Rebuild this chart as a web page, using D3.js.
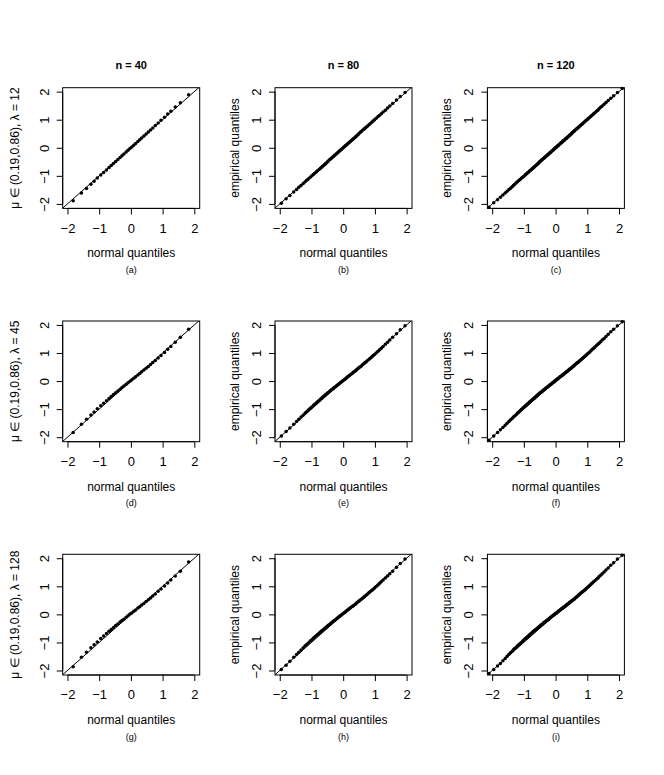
<!DOCTYPE html>
<html>
<head>
<meta charset="utf-8">
<script src="https://cdn.jsdelivr.net/npm/d3@7"></script>
<style>
  html, body { margin: 0; padding: 0; background: #fff; }
  text { font-family: "Liberation Sans", Arial, Helvetica, sans-serif; fill: #000; }
</style>
</head>
<body>
<svg id="chart" width="664" height="775"></svg>
<script>
// ---------- data ----------
const sampleSizes = ["n = 40", "n = 80", "n = 120"];
const lambdas = ["12", "45", "128"];
const panelLetters = ["(a)", "(b)", "(c)", "(d)", "(e)", "(f)", "(g)", "(h)", "(i)"];
const tickValues = [-2, -1, 0, 1, 2];
const xLabel = "normal quantiles";
const yLabel = "empirical quantiles";

// normal quantiles (x) for each sample size
const x40 = [-1.82,-1.56,-1.40,-1.26,-1.16,-1.06,-0.95,-0.86,-0.77,-0.69,-0.62,-0.55,-0.48,-0.41,-0.34,-0.28,-0.22,-0.15,-0.09,-0.03,
  0.03,0.09,0.15,0.22,0.28,0.34,0.41,0.48,0.55,0.62,0.69,0.77,0.86,0.95,1.06,1.16,1.26,1.40,1.56,1.82];
const x80 = [-1.95,-1.80,-1.68,-1.56,-1.47,-1.40,-1.33,-1.26,-1.20,-1.15,-1.10,-1.04,-0.99,-0.94,-0.90,-0.85,-0.81,-0.76,-0.72,-0.68,
  -0.65,-0.61,-0.57,-0.54,-0.50,-0.47,-0.43,-0.40,-0.37,-0.33,-0.30,-0.27,-0.23,-0.20,-0.17,-0.14,-0.11,-0.08,-0.05,-0.02,
  0.02,0.05,0.08,0.11,0.14,0.17,0.20,0.23,0.27,0.30,0.33,0.37,0.40,0.43,0.47,0.50,0.54,0.57,0.61,0.65,
  0.68,0.72,0.76,0.81,0.85,0.90,0.94,0.99,1.04,1.10,1.15,1.20,1.26,1.33,1.40,1.47,1.56,1.68,1.80,1.95];
const x120 = [-2.10,-1.95,-1.83,-1.74,-1.66,-1.59,-1.53,-1.47,-1.42,-1.37,-1.33,-1.29,-1.24,-1.20,-1.16,-1.12,-1.08,-1.04,-1.01,-0.97,
  -0.94,-0.91,-0.88,-0.85,-0.82,-0.79,-0.76,-0.73,-0.71,-0.68,-0.66,-0.63,-0.60,-0.58,-0.56,-0.53,-0.51,-0.49,-0.46,-0.44,
  -0.42,-0.39,-0.37,-0.35,-0.33,-0.31,-0.28,-0.26,-0.24,-0.22,-0.20,-0.18,-0.16,-0.14,-0.11,-0.09,-0.07,-0.05,-0.03,-0.01,
  0.01,0.03,0.05,0.07,0.09,0.11,0.14,0.16,0.18,0.20,0.22,0.24,0.26,0.28,0.31,0.33,0.35,0.37,0.39,0.42,
  0.44,0.46,0.49,0.51,0.53,0.56,0.58,0.60,0.63,0.66,0.68,0.71,0.73,0.76,0.79,0.82,0.85,0.88,0.91,0.94,
  0.97,1.01,1.04,1.08,1.12,1.16,1.20,1.24,1.29,1.33,1.37,1.42,1.47,1.53,1.59,1.66,1.74,1.83,1.95,2.10];

// empirical quantiles (y) for each panel
const yA = [-1.89,-1.61,-1.45,-1.30,-1.19,-1.08,-0.97,-0.88,-0.79,-0.70,-0.63,-0.56,-0.49,-0.42,-0.35,-0.28,-0.22,-0.15,-0.09,-0.03,
  0.03,0.09,0.15,0.22,0.29,0.35,0.42,0.49,0.56,0.63,0.70,0.79,0.88,0.98,1.09,1.20,1.30,1.45,1.60,1.89];
const yB = [-1.98,-1.82,-1.70,-1.58,-1.49,-1.41,-1.34,-1.27,-1.21,-1.16,-1.11,-1.05,-1.00,-0.95,-0.91,-0.86,-0.82,-0.77,-0.73,-0.69,
  -0.66,-0.62,-0.58,-0.55,-0.51,-0.47,-0.43,-0.40,-0.37,-0.33,-0.30,-0.27,-0.23,-0.20,-0.17,-0.14,-0.11,-0.08,-0.05,-0.02,
  0.02,0.05,0.08,0.11,0.14,0.17,0.20,0.23,0.27,0.30,0.33,0.37,0.40,0.43,0.47,0.51,0.55,0.58,0.62,0.66,
  0.69,0.73,0.77,0.82,0.86,0.91,0.95,1.00,1.05,1.11,1.16,1.21,1.27,1.34,1.42,1.49,1.58,1.70,1.83,1.97];
const yC = [-2.12,-1.96,-1.85,-1.76,-1.68,-1.61,-1.55,-1.49,-1.44,-1.39,-1.34,-1.30,-1.25,-1.21,-1.17,-1.13,-1.09,-1.05,-1.02,-0.98,
  -0.95,-0.92,-0.89,-0.86,-0.83,-0.80,-0.77,-0.74,-0.72,-0.69,-0.67,-0.64,-0.61,-0.59,-0.57,-0.54,-0.51,-0.49,-0.46,-0.44,
  -0.42,-0.39,-0.37,-0.35,-0.33,-0.31,-0.28,-0.26,-0.24,-0.22,-0.20,-0.18,-0.16,-0.14,-0.11,-0.09,-0.07,-0.05,-0.03,-0.01,
  0.01,0.03,0.05,0.07,0.09,0.11,0.14,0.16,0.18,0.20,0.22,0.24,0.26,0.28,0.31,0.33,0.35,0.37,0.39,0.42,
  0.44,0.46,0.49,0.51,0.54,0.57,0.59,0.61,0.64,0.67,0.69,0.72,0.74,0.77,0.80,0.83,0.86,0.89,0.92,0.95,
  0.98,1.02,1.05,1.09,1.13,1.17,1.21,1.25,1.30,1.34,1.39,1.44,1.49,1.55,1.61,1.68,1.76,1.85,1.97,2.11];
const yD = [-1.83,-1.54,-1.36,-1.21,-1.10,-0.99,-0.88,-0.79,-0.70,-0.62,-0.55,-0.48,-0.42,-0.35,-0.29,-0.23,-0.18,-0.11,-0.06,-0.01,
  0.05,0.10,0.15,0.22,0.27,0.33,0.39,0.46,0.52,0.59,0.66,0.73,0.82,0.91,1.02,1.13,1.23,1.38,1.56,1.85];
const yE = [-1.96,-1.80,-1.67,-1.54,-1.44,-1.36,-1.28,-1.21,-1.14,-1.09,-1.03,-0.97,-0.92,-0.87,-0.83,-0.78,-0.74,-0.69,-0.65,-0.61,
  -0.58,-0.54,-0.50,-0.47,-0.43,-0.41,-0.37,-0.34,-0.31,-0.28,-0.25,-0.22,-0.19,-0.16,-0.13,-0.11,-0.08,-0.05,-0.02,0.00,
  0.04,0.06,0.09,0.12,0.15,0.17,0.20,0.23,0.26,0.29,0.32,0.35,0.38,0.41,0.45,0.48,0.51,0.54,0.58,0.62,
  0.65,0.68,0.72,0.77,0.81,0.86,0.90,0.95,1.00,1.06,1.12,1.17,1.23,1.31,1.38,1.46,1.56,1.69,1.83,1.97];
const yF = [-2.11,-1.96,-1.83,-1.73,-1.65,-1.57,-1.50,-1.44,-1.38,-1.33,-1.28,-1.24,-1.19,-1.14,-1.10,-1.06,-1.01,-0.97,-0.94,-0.90,
  -0.87,-0.84,-0.81,-0.78,-0.75,-0.72,-0.69,-0.66,-0.64,-0.61,-0.59,-0.56,-0.53,-0.51,-0.49,-0.46,-0.44,-0.42,-0.40,-0.38,
  -0.36,-0.33,-0.31,-0.30,-0.28,-0.26,-0.23,-0.21,-0.20,-0.18,-0.16,-0.14,-0.12,-0.11,-0.08,-0.06,-0.04,-0.03,-0.01,0.01,
  0.03,0.05,0.07,0.08,0.10,0.12,0.15,0.16,0.18,0.20,0.22,0.23,0.25,0.27,0.30,0.32,0.33,0.35,0.37,0.40,
  0.42,0.44,0.46,0.48,0.50,0.53,0.55,0.57,0.60,0.63,0.65,0.67,0.69,0.72,0.75,0.78,0.81,0.84,0.87,0.90,
  0.93,0.97,1.00,1.04,1.09,1.13,1.17,1.21,1.27,1.31,1.35,1.40,1.46,1.52,1.59,1.67,1.76,1.85,1.97,2.11];
const yG = [-1.87,-1.53,-1.35,-1.19,-1.08,-0.98,-0.86,-0.77,-0.68,-0.60,-0.54,-0.47,-0.40,-0.34,-0.27,-0.22,-0.17,-0.10,-0.05,0.01,
  0.05,0.11,0.16,0.23,0.27,0.33,0.39,0.46,0.52,0.58,0.65,0.73,0.82,0.90,1.01,1.12,1.22,1.37,1.54,1.87];
const yH = [-1.96,-1.81,-1.67,-1.53,-1.43,-1.35,-1.27,-1.19,-1.12,-1.07,-1.02,-0.95,-0.90,-0.85,-0.81,-0.76,-0.72,-0.67,-0.63,-0.59,
  -0.57,-0.53,-0.49,-0.46,-0.42,-0.39,-0.36,-0.33,-0.30,-0.26,-0.24,-0.21,-0.18,-0.15,-0.12,-0.09,-0.07,-0.04,-0.01,0.01,
  0.05,0.07,0.10,0.13,0.16,0.18,0.21,0.24,0.27,0.29,0.32,0.35,0.38,0.41,0.45,0.48,0.51,0.54,0.57,0.61,
  0.64,0.68,0.72,0.77,0.81,0.85,0.89,0.94,0.99,1.05,1.11,1.16,1.22,1.30,1.37,1.45,1.54,1.68,1.81,1.97];
const yI = [-2.11,-1.96,-1.84,-1.75,-1.65,-1.57,-1.49,-1.42,-1.37,-1.31,-1.26,-1.22,-1.17,-1.12,-1.08,-1.04,-1.00,-0.96,-0.92,-0.88,
  -0.85,-0.82,-0.79,-0.76,-0.73,-0.70,-0.67,-0.64,-0.62,-0.59,-0.57,-0.55,-0.52,-0.50,-0.48,-0.45,-0.43,-0.41,-0.38,-0.37,
  -0.35,-0.32,-0.30,-0.28,-0.27,-0.25,-0.22,-0.21,-0.19,-0.17,-0.15,-0.13,-0.11,-0.09,-0.07,-0.05,-0.03,-0.01,0.00,0.02,
  0.04,0.05,0.07,0.09,0.11,0.13,0.15,0.17,0.19,0.21,0.22,0.24,0.26,0.27,0.30,0.32,0.34,0.36,0.37,0.40,
  0.42,0.44,0.46,0.48,0.50,0.52,0.54,0.56,0.59,0.62,0.64,0.67,0.69,0.72,0.75,0.78,0.81,0.83,0.86,0.89,
  0.92,0.96,0.99,1.03,1.08,1.12,1.16,1.20,1.25,1.29,1.34,1.39,1.45,1.51,1.58,1.65,1.75,1.84,1.97,2.11];

const xByCol = [x40, x80, x120];
const yByPanel = [[yA, yB, yC], [yD, yE, yF], [yG, yH, yI]];

// ---------- layout ----------
const colLeft = [62.7, 275, 487.4];
const rowTop = [87.7, 321, 554.3];
const pw = 137, ph = 120.7;
const xDomain = [-2.15, 2.17];
const yDomain = [-2.16, 2.14];

const svg = d3.select("#chart");
svg.append("rect").attr("width", 664).attr("height", 775).attr("fill", "#fff");

const fmt = d => d < 0 ? "\u2212" + Math.abs(d) : String(d);

for (let r = 0; r < 3; r++) {
  for (let c = 0; c < 3; c++) {
    const idx = r * 3 + c;
    const g = svg.append("g").attr("transform", `translate(${colLeft[c]},${rowTop[r]})`);
    const x = d3.scaleLinear().domain(xDomain).range([0, pw]);
    const y = d3.scaleLinear().domain(yDomain).range([ph, 0]);

    const clipId = "clip" + idx;
    g.append("clipPath").attr("id", clipId)
      .append("rect").attr("width", pw).attr("height", ph);

    // reference line y = x
    g.append("line")
      .attr("clip-path", `url(#${clipId})`)
      .attr("x1", x(-3)).attr("y1", y(-3))
      .attr("x2", x(3)).attr("y2", y(3))
      .attr("stroke", "#000").attr("stroke-width", 1);

    // points
    const xs = xByCol[c], ys = yByPanel[r][c];
    g.append("g").selectAll("circle")
      .data(xs.map((v, i) => [v, ys[i]]))
      .join("circle")
      .attr("cx", d => x(d[0]))
      .attr("cy", d => y(d[1]))
      .attr("r", 1.75)
      .attr("fill", "#000");

    // x axis
    const xa = g.append("g").attr("transform", `translate(0,${ph})`)
      .call(d3.axisBottom(x).tickValues(tickValues).tickSize(6).tickSizeOuter(0).tickFormat(fmt));
    xa.select(".domain").remove();
    xa.append("line").attr("x1", x(-2)).attr("x2", x(2)).attr("stroke", "#000");
    xa.selectAll(".tick line").attr("stroke", "#000");
    xa.selectAll(".tick text")
      .attr("y", 19.5).attr("dy", "0.36em")
      .style("font-size", "13px").attr("fill", "#000");

    // y axis
    const ya = g.append("g")
      .call(d3.axisLeft(y).tickValues(tickValues).tickSize(6).tickSizeOuter(0).tickFormat(fmt));
    ya.select(".domain").remove();
    ya.append("line").attr("y1", y(-2)).attr("y2", y(2)).attr("stroke", "#000");
    ya.selectAll(".tick line").attr("stroke", "#000");
    ya.selectAll(".tick text")
      .attr("x", null).attr("dy", null)
      .attr("text-anchor", "middle")
      .attr("dominant-baseline", "central")
      .attr("transform", "translate(-18.5,0) rotate(-90)")
      .style("font-size", "13px").attr("fill", "#000");

    // box
    g.append("rect").attr("width", pw).attr("height", ph)
      .attr("fill", "none").attr("stroke", "#000").attr("stroke-width", 1);

    // title (top row only)
    if (r === 0) {
      g.append("text").attr("x", pw / 2).attr("y", -22.7)
        .attr("text-anchor", "middle").attr("dominant-baseline", "central")
        .style("font-size", "11px").style("font-weight", "bold")
        .text(sampleSizes[c]);
    }

    // x label and panel letter
    g.append("text").attr("x", pw / 2).attr("y", ph + 45)
      .attr("text-anchor", "middle").attr("dominant-baseline", "central")
      .style("font-size", "12px").text(xLabel);
    g.append("text").attr("x", pw / 2).attr("y", ph + 61.7)
      .attr("text-anchor", "middle").attr("dominant-baseline", "central")
      .style("font-size", "9px").text(panelLetters[idx]);

    // y label
    if (c === 0) {
      g.append("text")
        .attr("transform", `translate(-47.7,${ph / 2}) rotate(-90)`)
        .attr("text-anchor", "middle").attr("dominant-baseline", "central")
        .style("font-size", "12px")
        .text(`\u03bc \u2208 (0.19,0.86), \u03bb = ${lambdas[r]}`);
    } else {
      g.append("text")
        .attr("transform", `translate(-40,${ph / 2}) rotate(-90)`)
        .attr("text-anchor", "middle").attr("dominant-baseline", "central")
        .style("font-size", "12px")
        .text(yLabel);
    }
  }
}
</script>
</body>
</html>
